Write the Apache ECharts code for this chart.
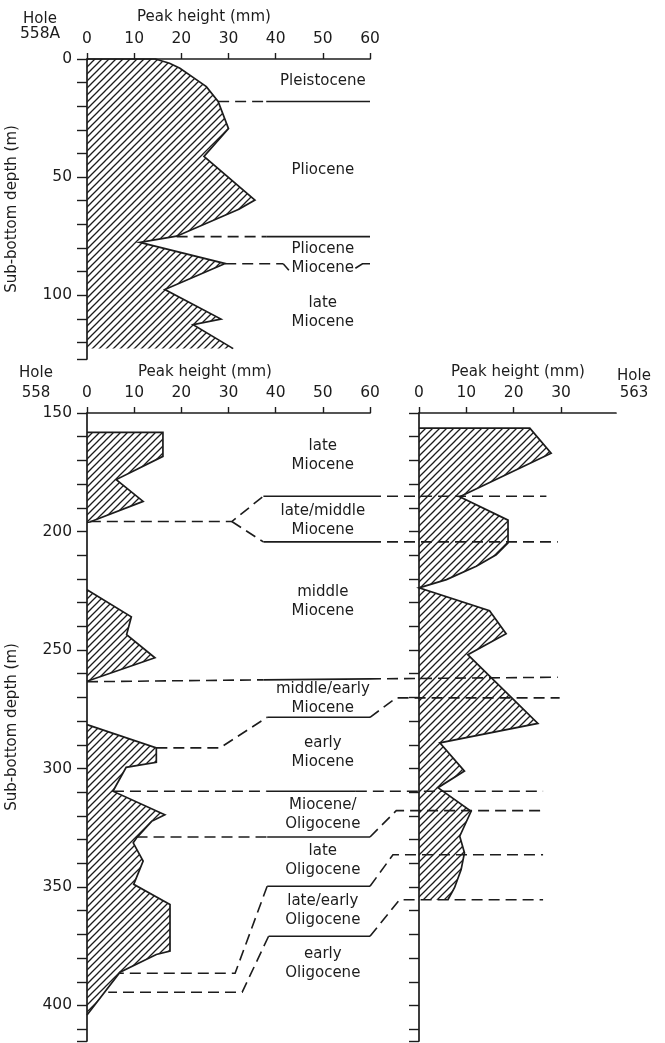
<!DOCTYPE html>
<html>
<head>
<meta charset="utf-8">
<script src="https://cdn.jsdelivr.net/npm/echarts@6/dist/echarts.min.js"></script>
<style>
  html, body { margin: 0; padding: 0; background: #fff; }
  #chart { width: 665px; height: 1043px; }
</style>
</head>
<body>
<div id="chart"></div>
<script>
// Peak height profiles, [peak height (mm), sub-bottom depth (m)]
const hole558A = [[0, 0], [14.5, 0], [17.5, 1.8], [19.7, 3.9], [22.8, 8.2], [25.3, 11.7], [27.8, 18],
  [30, 29.5], [24.8, 41.2], [35.6, 59.7], [32.2, 63.6], [19, 75], [11.2, 77.6], [29.3, 86.6],
  [16.5, 97.6], [28.4, 110.1], [22.5, 112.5], [31, 122.6], [0, 122.6]];
const hole558Upper = [[0, 158.2], [16.1, 158.2], [16.1, 168.3], [6.2, 178.1], [11.9, 187.3], [0.6, 196], [0, 196.2]];
const hole558Middle = [[0, 224.6], [9.4, 236], [8.4, 243.5], [14.4, 253.3], [0, 263.2]];
const hole558Lower = [[0, 281.5], [14.7, 291.3], [14.7, 297.4], [8.3, 299.5], [5.5, 309.6], [16.5, 319.5],
  [13.7, 322.3], [10.5, 329.3], [9.8, 331.4], [11.9, 339.1], [9.9, 348.9], [17.6, 357.4], [17.6, 377.1],
  [14.7, 378.5], [7, 386], [0, 404]];
const hole563 = [[0, 156.4], [23.4, 156.4], [27.9, 167], [8.6, 185.3], [18.8, 195.2], [18.8, 204.8],
  [16.3, 209.8], [12.1, 214.7], [5.8, 220.3], [0, 223.8], [14.9, 233.4], [18.4, 243.1], [10.3, 252],
  [25.1, 281], [4.4, 289.2], [9.6, 301.1], [4, 308.1], [11, 318.1], [8.6, 328.6], [9.6, 335.6],
  [8.9, 342.6], [7.5, 350.3], [6.1, 355.4], [0, 355.4]];

// axis ranges / ticks
const depthRangeTop = [0, 127];
const depthRangeBottom = [150, 415];
const peakTicks563 = [0, 10, 20, 30];

// stratigraphic labels: [text, depth], grid 0 = Hole 558A, grid 1 = Hole 558
const epochsTop = [['Pleistocene', 9.3], ['Pliocene', 46.9], ['Pliocene\nMiocene', 84.4], ['late\nMiocene', 107.4]];
const epochsBottom = [['late\nMiocene', 167.8], ['late/middle\nMiocene', 195.2], ['middle\nMiocene', 229.6],
  ['middle/early\nMiocene', 270.4], ['early\nMiocene', 293.1], ['Miocene/\nOligocene', 319.3],
  ['late\nOligocene', 338.9], ['late/early\nOligocene', 360.1], ['early\nOligocene', 382.3]];

// boundary / correlation lines: [dashed?, [[grid, mm, depth], ...]]
const boundaries = [
  [true, [[0, 27.8, 18], [0, 38, 18]]], [false, [[0, 38, 18], [0, 60, 18]]],
  [true, [[0, 19, 75.2], [0, 38, 75.2]]], [false, [[0, 38, 75.2], [0, 60, 75.2]]],
  [true, [[0, 29.3, 86.7], [0, 41.6, 86.7]]], [false, [[0, 41.6, 86.7], [0, 42.8, 89.4]]],
  [false, [[0, 56.9, 88.6], [0, 58.4, 86.7], [0, 60, 86.7]]],
  // late / middle Miocene
  [true, [[1, 0.6, 195.8], [1, 30.7, 195.8], [1, 37.4, 185.1]]], [false, [[1, 37.4, 185.1], [1, 60, 185.1]]],
  [true, [[1, 60, 185.1], [2, 26.9, 185.1]]],
  [true, [[1, 30.7, 195.8], [1, 37.4, 204.4]]], [false, [[1, 37.4, 204.4], [1, 60, 204.4]]],
  [true, [[1, 60, 204.4], [2, 29.3, 204.4]]],
  // middle / early Miocene
  [true, [[1, 0, 263.4], [1, 37.4, 262.6]]], [false, [[1, 37.4, 262.6], [1, 60, 262.2]]],
  [true, [[1, 60, 262.2], [2, 29.3, 261.5]]],
  [true, [[1, 14.7, 291.3], [1, 28.2, 291.3], [1, 38.2, 278.4]]], [false, [[1, 38.2, 278.4], [1, 60, 278.4]]],
  [true, [[1, 60, 278.4], [2, -4.8, 270.2], [2, 29.7, 270.2]]],
  // Miocene / Oligocene
  [true, [[1, 5.5, 309.6], [1, 38, 309.6]]], [false, [[1, 38, 309.6], [1, 57, 309.6]]],
  [true, [[1, 57, 309.6], [2, 26.2, 309.6]]],
  [true, [[1, 10.5, 328.9], [1, 38.2, 328.9]]], [false, [[1, 38.2, 328.9], [1, 60, 328.9]]],
  [true, [[1, 60, 328.9], [2, -4.8, 317.8], [2, 26.5, 317.8]]],
  // late / early Oligocene
  [false, [[1, 38.2, 349.7], [1, 60, 349.7]]],
  [true, [[1, 60, 349.7], [2, -5.5, 336.4], [2, 26.2, 336.4]]],
  [true, [[1, 38.2, 349.7], [1, 31.4, 386.4], [1, 7, 386.4]]],
  [false, [[1, 38.5, 370.8], [1, 60, 370.8]]],
  [true, [[1, 60, 370.8], [2, -4.1, 355.4], [2, 26.2, 355.4]]],
  [true, [[1, 38.5, 370.8], [1, 32.9, 394.4], [1, 4.5, 394.4]]]
];

const INK = '#1c1c1c';
const FONT = '"DejaVu Sans", Verdana, sans-serif';

function hatchCanvas() {
  const c = document.createElement('canvas');
  c.width = 7; c.height = 7;
  const g = c.getContext('2d');
  g.strokeStyle = INK;
  g.lineWidth = 1.3;
  g.beginPath();
  g.moveTo(-1, 8); g.lineTo(8, -1);
  g.moveTo(-1, 1); g.lineTo(1, -1);
  g.moveTo(6, 8); g.lineTo(8, 6);
  g.stroke();
  return c;
}
const hatch = { image: hatchCanvas(), repeat: 'repeat' };

function profileSeries(points, gridIndex, openEnd) {
  return {
    type: 'custom',
    xAxisIndex: gridIndex,
    yAxisIndex: gridIndex,
    data: points,
    silent: true,
    clip: false,
    renderItem(params, api) {
      if (params.dataIndex !== 0) return null;
      const px = points.map(p => api.coord(p));
      const edge = openEnd ? px.slice(0, -1) : px;
      return {
        type: 'group',
        children: [
          { type: 'polygon', shape: { points: px }, style: { fill: hatch, stroke: null } },
          { type: 'polyline', shape: { points: edge }, style: { fill: null, stroke: INK, lineWidth: 1.7 } }
        ]
      };
    }
  };
}

function xAxisFor(gridIndex, max, ticks) {
  const ax = {
    gridIndex, type: 'value', position: 'top', min: 0, max, interval: 10,
    axisLine: { show: true, onZero: false, lineStyle: { color: INK, width: 1.7 } },
    axisTick: { show: true, length: 6, lineStyle: { color: INK, width: 1.4 } },
    axisLabel: { color: INK, fontSize: 15.5, fontFamily: FONT, margin: 12 },
    splitLine: { show: false }
  };
  if (ticks) {
    ax.axisTick.customValues = ticks;
    ax.axisLabel.customValues = ticks;
  }
  return ax;
}

function yAxisFor(gridIndex, range, labels, name) {
  return {
    gridIndex, type: 'value', inverse: true, min: range[0], max: range[1], interval: 10,
    name: name || '', nameLocation: 'middle', nameGap: 67, nameRotate: 90,
    nameTextStyle: { color: INK, fontSize: 15, fontFamily: FONT },
    axisLine: { show: true, onZero: false, lineStyle: { color: INK, width: 1.7 } },
    axisTick: { show: true, length: 10, lineStyle: { color: INK, width: 1.4 } },
    axisLabel: {
      show: labels, color: INK, fontSize: 15.5, fontFamily: FONT, margin: 15,
      formatter: v => (v % 50 === 0 ? String(v) : '')
    },
    splitLine: { show: false }
  };
}

const chart = echarts.init(document.getElementById('chart'), null, { renderer: 'canvas' });

chart.setOption({
  backgroundColor: '#fff',
  animation: false,
  grid: [
    { left: 87, top: 59, width: 283, height: 300, containLabel: false, outerBoundsMode: 'none' },
    { left: 87, top: 413, width: 283, height: 628, containLabel: false, outerBoundsMode: 'none' },
    { left: 419, top: 413, width: 197, height: 628, containLabel: false, outerBoundsMode: 'none' }
  ],
  xAxis: [xAxisFor(0, 60), xAxisFor(1, 60), xAxisFor(2, 41.6, peakTicks563)],
  yAxis: [
    yAxisFor(0, depthRangeTop, true, 'Sub-bottom depth (m)'),
    yAxisFor(1, depthRangeBottom, true, 'Sub-bottom depth (m)'),
    yAxisFor(2, depthRangeBottom, false)
  ],
  series: [
    profileSeries(hole558A, 0, true),
    profileSeries(hole558Upper, 1, false),
    profileSeries(hole558Middle, 1, false),
    profileSeries(hole558Lower, 1, false),
    profileSeries(hole563, 2, true)
  ]
});

// annotations placed through the grids' own scales
const toPx = (g, mm, d) => chart.convertToPixel({ gridIndex: g }, [mm, d]);

const graphics = [];
boundaries.forEach(([dashed, pts]) => {
  graphics.push({
    type: 'polyline', silent: true, z: 10,
    shape: { points: pts.map(p => toPx(p[0], p[1], p[2])) },
    style: { fill: null, stroke: INK, lineWidth: 1.6, lineDash: dashed ? [11, 6] : null }
  });
});

function epochText(g, text, depth) {
  const [x, y] = toPx(g, 50, depth);
  graphics.push({
    type: 'text', silent: true, z: 11, x, y,
    style: { text, fill: INK, fontSize: 15, fontFamily: FONT, align: 'center', verticalAlign: 'middle', lineHeight: 19 }
  });
}
epochsTop.forEach(([t, d]) => epochText(0, t, d));
epochsBottom.forEach(([t, d]) => epochText(1, t, d));

function caption(text, x, y, size) {
  graphics.push({
    type: 'text', silent: true, x, y,
    style: { text, fill: INK, fontSize: size, fontFamily: FONT, align: 'center', verticalAlign: 'middle' }
  });
}
caption('Hole', 40, 19, 15);
caption('558A', 40, 34, 15.5);
caption('Peak height (mm)', 204, 17, 15);
caption('Hole', 36, 373, 15);
caption('558', 36, 393, 15);
caption('Peak height (mm)', 205, 372, 15);
caption('Peak height (mm)', 518, 372, 15);
caption('Hole', 634, 376, 15);
caption('563', 634, 393, 15);

chart.setOption({ graphic: graphics });
</script>
</body>
</html>
